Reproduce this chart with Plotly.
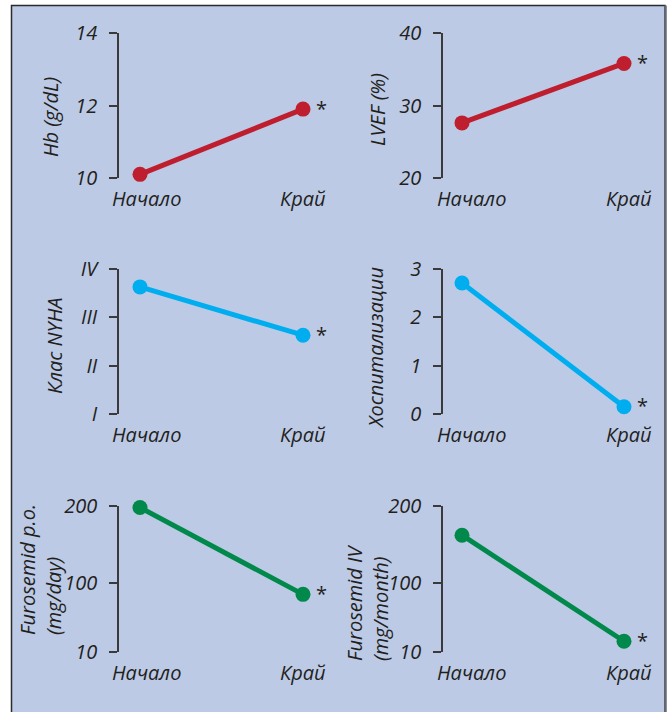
import plotly.graph_objects as go

W, H = 668, 712

categories = ["Начало", "Край"]
significance = ["", "*"]

hb = [10.1, 11.9]
lvef = [27.6, 35.8]
nyha = [3.63, 2.63]
hosp = [2.71, 0.15]
furo_po = [198, 85]
furo_iv = [162, 24]

hb_ticks = [10, 12, 14]
lvef_ticks = [20, 30, 40]
nyha_ticks = [1, 2, 3, 4]
nyha_ticktext = ["I", "II", "III", "IV"]
hosp_ticks = [0, 1, 2, 3]
furo_ticks = [10, 100, 200]

titles = ["Hb (g/dL)", "LVEF (%)", "Клас NYHA", "Хоспитализации",
          "Furosemid p.o.<br>(mg/day)", "Furosemid IV<br>(mg/month)"]

RED = "#be1e2d"
BLUE = "#00aeef"
GREEN = "#00894b"
TXT = "#231f20"
AX = "#3a3a3a"
FONT = "Open Sans"

panels = [
    dict(y=hb, color=RED, ticks=hb_ticks, ticktext=None, rng=[10, 14]),
    dict(y=lvef, color=RED, ticks=lvef_ticks, ticktext=None, rng=[20, 40]),
    dict(y=nyha, color=BLUE, ticks=nyha_ticks, ticktext=nyha_ticktext, rng=[1, 4]),
    dict(y=hosp, color=BLUE, ticks=hosp_ticks, ticktext=None, rng=[0, 3]),
    dict(y=furo_po, color=GREEN, ticks=furo_ticks, ticktext=None, rng=[10, 200]),
    dict(y=furo_iv, color=GREEN, ticks=furo_ticks, ticktext=None, rng=[10, 200]),
]

# pixel layout (axis line x, first point x, second point x, right edge, top y, bottom y)
col_px = [(119, 140, 303, 335), (443, 462, 624, 660)]
row_px = [(33, 178), (269, 414), (506, 652)]
title_pos = [(51, 117), (378, 110), (54, 346), (375, 348), (40, 570), (367, 603)]
label_shift = [[6, 0], [9, 5]]

fig = go.Figure()
layout = dict()
annotations = []

for i, p in enumerate(panels):
    r, c = divmod(i, 2)
    ax_x, p0, p1, right = col_px[c]
    top, bot = row_px[r]
    unit = p1 - p0
    xr = [-(p0 - ax_x) / unit, 1 + (right - p1) / unit]
    n = i + 1
    xa = "x" if n == 1 else f"x{n}"
    ya = "y" if n == 1 else f"y{n}"
    fig.add_trace(go.Scatter(
        x=[0, 1], y=p["y"], xaxis=xa, yaxis=ya, mode="lines+markers",
        line=dict(color=p["color"], width=5),
        marker=dict(color=p["color"], size=15),
        cliponaxis=False, showlegend=False, hoverinfo="skip"))
    layout[f"xaxis{'' if n == 1 else n}"] = dict(
        domain=[ax_x / W, right / W], range=xr, anchor=ya, automargin=False,
        showticklabels=False, showline=False, showgrid=False,
        zeroline=False, ticks="")
    layout[f"yaxis{'' if n == 1 else n}"] = dict(
        domain=[1 - bot / H, 1 - top / H], range=p["rng"], anchor=xa, automargin=False,
        tickvals=p["ticks"], ticktext=p["ticktext"] if p["ticktext"] else [str(t) for t in p["ticks"]],
        showline=True, linecolor=AX, linewidth=1.5, showgrid=False, zeroline=False,
        ticks="outside", ticklen=8, tickwidth=1.5, tickcolor=AX, ticklabelstandoff=8,
        tickfont=dict(family=FONT, size=20, color=TXT, style="italic"))
    # category labels under each panel
    for k, lab in enumerate(categories):
        annotations.append(dict(
            x=k, y=0, xref=xa, yref=f"{ya} domain", text=lab, showarrow=False,
            xanchor="center", yanchor="top", xshift=label_shift[c][k], yshift=-5,
            font=dict(family=FONT, size=20, color=TXT, style="italic")))
    for k, s in enumerate(significance):
        if s:
            annotations.append(dict(
                x=k, y=p["y"][k], xref=xa, yref=ya, text=s, showarrow=False,
                xshift=18, yshift=1,
                font=dict(family=FONT, size=20, color=TXT)))
    tx, ty = title_pos[i]
    annotations.append(dict(
        x=tx / W, y=1 - ty / H, xref="paper", yref="paper", text=titles[i],
        xanchor="center", yanchor="middle",
        showarrow=False, textangle=-90, align="left",
        font=dict(family=FONT, size=20, color=TXT, style="italic")))

shapes = [
    dict(type="rect", xref="paper", yref="paper",
         x0=11.5 / W, x1=665 / W, y0=-0.02, y1=1 - 5.5 / H,
         fillcolor="#bccae6", line=dict(color="#2b2b2b", width=1.5), layer="below"),
    dict(type="line", xref="paper", yref="paper",
         x0=665.5 / W, x1=665.5 / W, y0=-0.02, y1=1 - 5.5 / H,
         line=dict(color="#666a75", width=2.5), layer="below"),
]

fig.update_layout(
    width=W, height=H, margin=dict(l=0, r=0, t=0, b=0, pad=0), autosize=False,
    paper_bgcolor="white", plot_bgcolor="rgba(0,0,0,0)",
    annotations=annotations, shapes=shapes, **layout)

fig.write_html("out.html", config={"displayModeBar": False},
               post_script="document.body.style.margin='0';document.body.style.overflow='hidden';")
